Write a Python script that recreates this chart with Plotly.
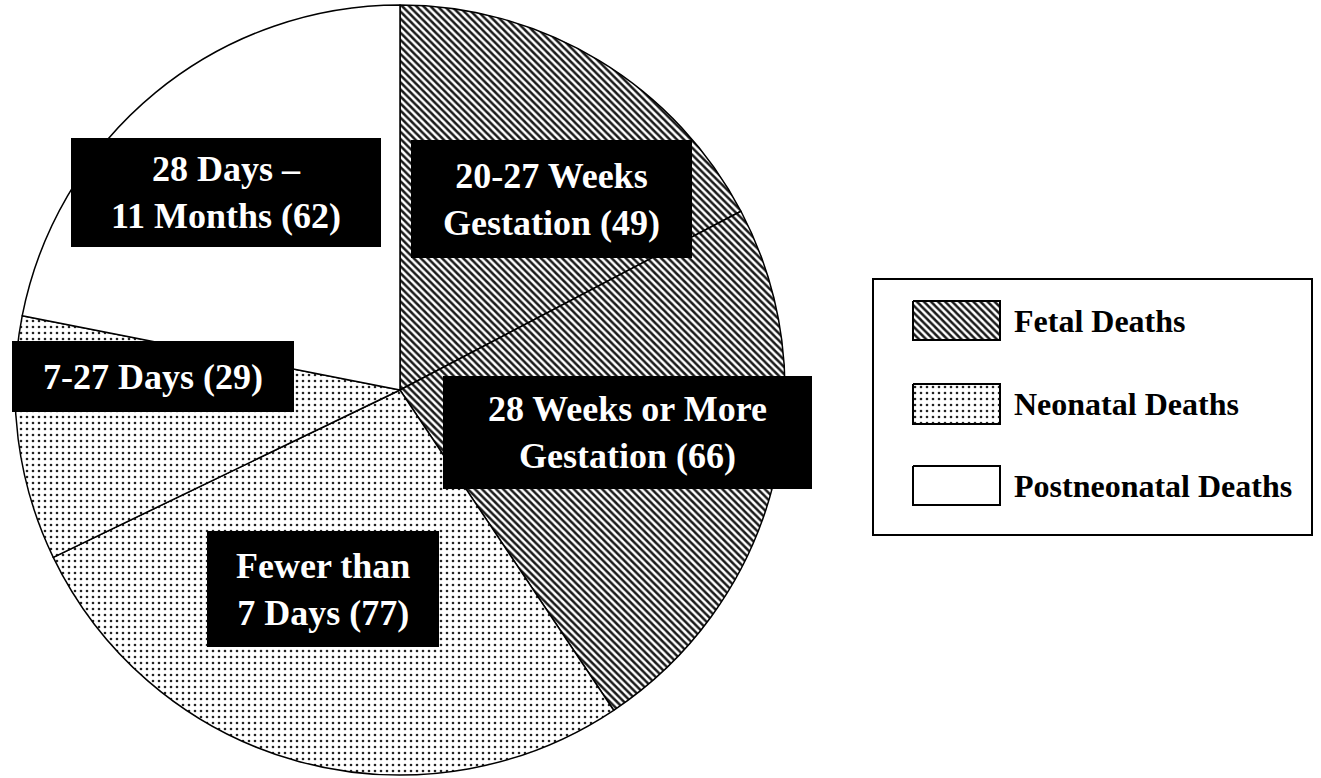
import plotly.graph_objects as go

# ---- data ----
slice_labels = ["20-27 Weeks<br>Gestation", "28 Weeks or More<br>Gestation",
                "Fewer than<br>7 Days", "7-27 Days", "28 Days –<br>11 Months"]
slice_values = [49, 66, 77, 29, 62]
slice_groups = ["Fetal Deaths", "Fetal Deaths", "Neonatal Deaths",
                "Neonatal Deaths", "Postneonatal Deaths"]
legend_names = ["Fetal Deaths", "Neonatal Deaths", "Postneonatal Deaths"]

# ---- styles ----
W, H = 1321, 778
FONT = "Liberation Serif, Times New Roman, serif"
group_pattern = {
    "Fetal Deaths": dict(shape="\\", size=5, solidity=0.5, fg="#1a1a1a"),
    "Neonatal Deaths": dict(shape=".", size=6, solidity=0.15, fg="#222222"),
    "Postneonatal Deaths": dict(shape="", size=6, solidity=0.2, fg="#000000"),
}
# label boxes (pixel coords: x0, y0, x1, y1)
label_boxes = [(411, 140, 692, 258), (443, 376, 812, 489), (207, 531, 439, 647),
               (12, 341, 294, 412), (71, 138, 381, 247)]
# pie center / radius in pixels
CX, CY, R = 400, 390, 385
legend_box = (873, 279, 1312, 535)
swatches = [(913, 301, 1000, 340), (913, 384, 1000, 424), (913, 466, 1000, 505)]

fig = go.Figure()

pats = [group_pattern[g] for g in slice_groups]
fig.add_trace(go.Pie(
    labels=[l.replace("<br>", " ") for l in slice_labels],
    values=slice_values,
    sort=False, direction="clockwise", rotation=0,
    textinfo="none", hoverinfo="label+value",
    showlegend=False,
    marker=dict(
        colors=["white"] * len(slice_values),
        line=dict(color="black", width=1.5),
        pattern=dict(shape=[p["shape"] for p in pats],
                     size=[p["size"] for p in pats],
                     solidity=[p["solidity"] for p in pats],
                     fgcolor=[p["fg"] for p in pats],
                     bgcolor="white", fillmode="replace"),
    ),
    domain=dict(x=[(CX - R) / W, (CX + R) / W],
                y=[(H - CY - R) / H, (H - CY + R) / H]),
))

# legend swatches
for name, (x0, y0, x1, y1) in zip(legend_names, swatches):
    p = group_pattern[name]
    fig.add_trace(go.Scatter(
        x=[x0, x1, x1, x0, x0], y=[y0, y0, y1, y1, y0],
        mode="lines", fill="toself", fillcolor="white",
        fillpattern=dict(shape=p["shape"], size=p["size"], solidity=p["solidity"],
                         fgcolor=p["fg"], bgcolor="white", fillmode="replace"),
        line=dict(color="black", width=2), showlegend=False, hoverinfo="skip",
    ))
    fig.add_annotation(x=x1 + 12, y=(y0 + y1) / 2, xref="x", yref="y",
                       text=f"<b>{name}</b>", showarrow=False,
                       xanchor="left", yanchor="middle",
                       font=dict(family=FONT, size=32, color="black"))

shapes = [dict(type="rect", xref="x", yref="y", x0=legend_box[0], y0=legend_box[1],
               x1=legend_box[2], y1=legend_box[3], line=dict(color="black", width=2),
               fillcolor="rgba(0,0,0,0)", layer="above")]
for (x0, y0, x1, y1), lab, v in zip(label_boxes, slice_labels, slice_values):
    shapes.append(dict(type="rect", xref="x", yref="y", x0=x0, y0=y0, x1=x1, y1=y1,
                       fillcolor="black", line=dict(width=0), layer="above"))
    fig.add_annotation(x=(x0 + x1) / 2, y=(y0 + y1) / 2, xref="x", yref="y",
                       text=f"<b>{lab} ({v})</b>", showarrow=False,
                       xanchor="center", yanchor="middle", align="center",
                       font=dict(family=FONT, size=36, color="white"))

fig.update_layout(
    width=W, height=H, margin=dict(l=0, r=0, t=0, b=0),
    paper_bgcolor="white", plot_bgcolor="rgba(0,0,0,0)",
    shapes=shapes,
    xaxis=dict(range=[0, W], visible=False, fixedrange=True, domain=[0, 1]),
    yaxis=dict(range=[H, 0], visible=False, fixedrange=True, domain=[0, 1]),
    showlegend=False,
)

fig.write_html("out.html", config={"displayModeBar": False},
               post_script="document.body.style.margin='0';document.body.style.padding='0';")
